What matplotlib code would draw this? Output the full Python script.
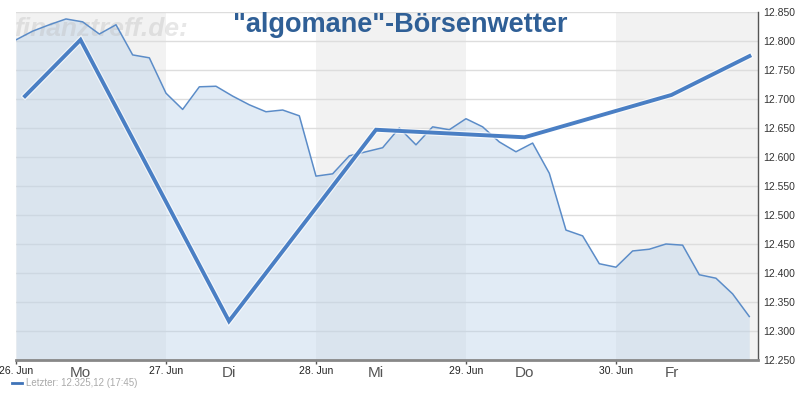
import matplotlib.pyplot as plt
import matplotlib.patheffects as pe
import numpy as np

# intraday quotes, 9 per trading day (26. Jun .. 30. Jun)
day0 = [12802, 12817, 12828, 12838, 12833, 12812, 12828, 12776, 12771]
day1 = [12710, 12682, 12721, 12722, 12705, 12690, 12678, 12681, 12671]
day2 = [12567, 12571, 12602, 12609, 12616, 12650, 12621, 12652, 12647]
day3 = [12666, 12652, 12626, 12609, 12624, 12572, 12474, 12464, 12416]
day4 = [12410, 12438, 12441, 12450, 12448, 12397, 12391, 12364, 12325]
quotes = np.array(day0 + day1 + day2 + day3 + day4) / 1000.0

# "Boersenwetter" forecast line (position in days, value)
fc_x = [0.06, 0.43, 1.42, 2.40, 3.39, 4.37, 4.89]
fc_y = [12.705, 12.802, 12.317, 12.647, 12.634, 12.707, 12.774]

date_labels = ['26. Jun', '27. Jun', '28. Jun', '29. Jun', '30. Jun']
weekdays = ['Mo', 'Di', 'Mi', 'Do', 'Fr']
yticks = [12.25, 12.30, 12.35, 12.40, 12.45, 12.50, 12.55, 12.60, 12.65, 12.70, 12.75, 12.80, 12.85]

plt.rcParams['font.family'] = ['Liberation Sans', 'DejaVu Sans']

fig = plt.figure(figsize=(7.99, 3.97), dpi=100)
ax = fig.add_axes([16 / 799, 1 - 360 / 397, 742 / 799, 348 / 397])

x = np.arange(len(quotes)) / 9.0
ymin, ymax = 12.25, 12.85
xmax = 4.947

# alternating day bands
for d in range(0, 5, 2):
    ax.axvspan(d, min(d + 1, xmax), color='#f2f2f2', lw=0, zorder=0)

for v in yticks:
    ax.axhline(v, color='#dddddd', lw=1, zorder=1)

ax.fill_between(x, quotes, ymin, color='#b6cfe8', alpha=0.4, lw=0, zorder=2)

# watermark sits above the fill but below the lines
ax.text(14 / 799, 1 - 29 / 397, 'finanztreff.de:', transform=fig.transFigure, fontsize=19,
        fontstyle='italic', fontweight='bold', color='#bbbbbb', alpha=0.35,
        ha='left', va='center', zorder=2.5)

ax.plot(x, quotes, color='#5b8cc8', lw=1.1, zorder=3)

ax.plot(fc_x, fc_y, color='#4a7fc4', lw=2.8, zorder=4, solid_joinstyle='miter',
        path_effects=[pe.Stroke(linewidth=4.5, foreground='white', alpha=0.7), pe.Normal()])

ax.set_xlim(0, xmax)
ax.set_ylim(ymin, ymax)

for s in ['top', 'left']:
    ax.spines[s].set_visible(False)
ax.spines['right'].set_color('#555555')
ax.spines['right'].set_linewidth(1)
ax.spines['bottom'].set_color('#888888')
ax.spines['bottom'].set_linewidth(2)

ax.yaxis.tick_right()
ax.set_yticks(yticks)
ax.set_yticklabels([f'{v:.3f}' for v in yticks], fontsize=7.5, color='#333333')
ax.tick_params(axis='y', length=0, pad=3.5)

ax.set_xticks(range(5))
ax.set_xticklabels(date_labels, fontsize=7.5, color='#222222')
ax.tick_params(axis='x', length=3, width=1, color='#555555', pad=1)

for i, w in enumerate(weekdays):
    ax.text(fc_x[i + 1], -0.036, w, transform=ax.get_xaxis_transform(),
            ha='center', va='center', fontsize=11, color='#555555')

fig.text(400 / 799, 1 - 25 / 397, '"algomane"-Börsenwetter', fontsize=19.5,
         fontweight='bold', color='#2f5f96', ha='center', va='center')

fig.lines.append(plt.Line2D([12 / 799, 22 / 799], [1 - 383 / 397] * 2, color='#3f73b8',
                            lw=2, transform=fig.transFigure))
fig.text(26 / 799, 1 - 383 / 397, 'Letzter: 12.325,12 (17:45)', fontsize=7,
         color='#aaaaaa', ha='left', va='center')

fig.savefig('out.png', dpi=100)
